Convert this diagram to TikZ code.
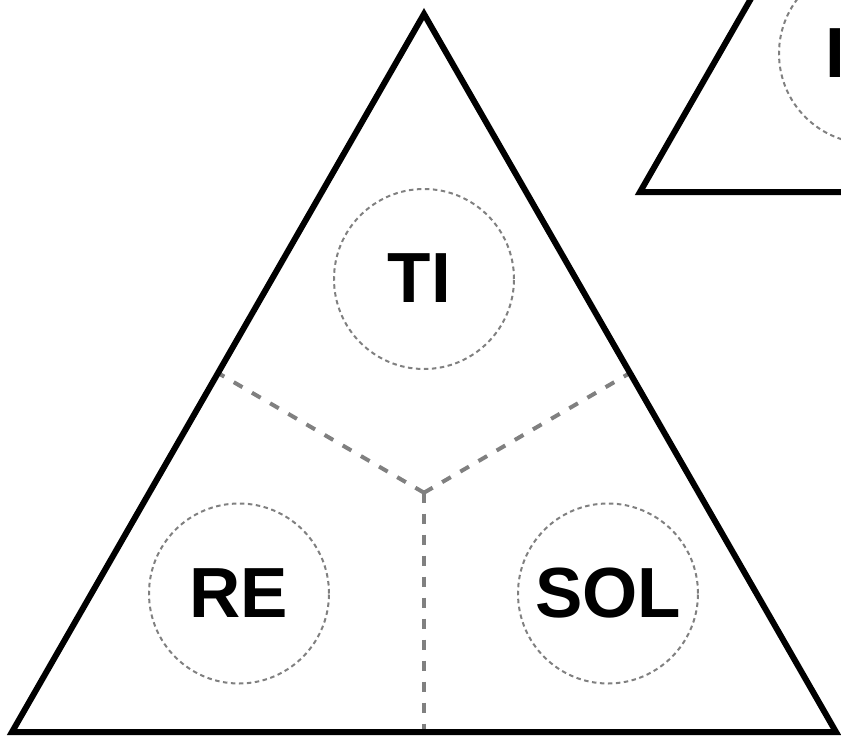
\documentclass[tikz,border=0pt]{standalone}
\usepackage{fontspec}
\setmainfont{Liberation Sans}
\definecolor{dgray}{HTML}{808080}
\begin{document}
\begin{tikzpicture}[x=1pt,y=-1pt,
  tri/.style={draw=black,line width=6pt,line join=miter},
  sep/.style={draw=dgray,line width=4pt,dash pattern=on 10pt off 11pt},
  ring/.style={circle,draw=dgray,line width=2pt,dash pattern=on 4.5pt off 3.5pt,minimum size=180pt,inner sep=0pt},
  lbl/.style={font=\fontsize{71}{71}\selectfont\bfseries,inner sep=0pt}]
\useasboundingbox (0,0) rectangle (841,736);
\clip (0,0) rectangle (841,736);
% main triangle
\coordinate (A) at (424,14);
\coordinate (B) at (12,732);
\coordinate (C) at (836,732);
\coordinate (G) at (424,492.7);
\coordinate (mL) at (218,373);
\coordinate (mR) at (630,373);
\coordinate (mB) at (424,732);
\draw[sep] (G) -- (mL);
\draw[sep] (G) -- (mR);
\draw[sep] (G) -- (mB);
\draw[tri] (A) -- (B) -- (C) -- cycle;
\node[ring] (tiring) at (424,279) {};
\node[lbl] (ti) at (419.5,278.5) {TI};
\node[ring,lbl] (re) at (239,593.5) {RE};
\node[ring,lbl] (sol) at (608,593.5) {SOL};
% second triangle (partly visible)
\begin{scope}[shift={(628,-540)}]
\coordinate (A2) at (424,14);
\coordinate (B2) at (12,732);
\coordinate (C2) at (836,732);
\draw[tri] (A2) -- (B2) -- (C2) -- cycle;
\node[ring] (r2) at (241,593.5) {};
\end{scope}
\node[lbl,anchor=base west] (i2) at (825.5,77) {I};
\end{tikzpicture}
\end{document}
